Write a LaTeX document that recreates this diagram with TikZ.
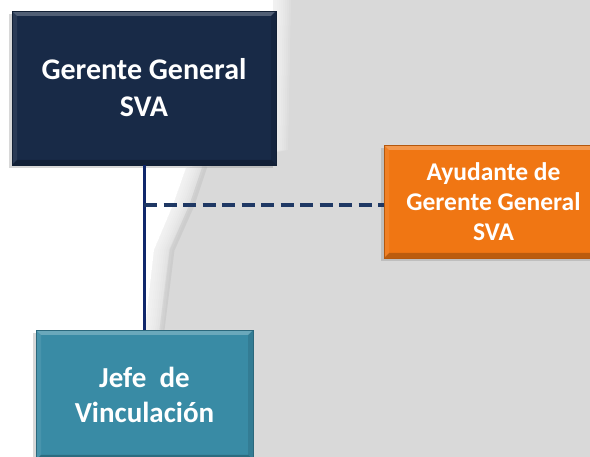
\documentclass[tikz,border=0pt]{standalone}
\usepackage{fontspec}
\setmainfont{Carlito}
\usepackage{tikz}
\usetikzlibrary{shadows}

\definecolor{navy}{HTML}{182A47}
\definecolor{ayorange}{HTML}{F07613}
\definecolor{teal}{HTML}{398BA5}
\definecolor{linkblue}{HTML}{10276B}
\definecolor{dashblue}{HTML}{1F3864}
\definecolor{bggray}{HTML}{D9D9D9}

\begin{document}
\begin{tikzpicture}[x=1pt,y=-1pt,
  box/.style={rectangle, fill=#1, draw=#1!75!black, text=white, align=center, inner sep=0pt,
    font=\bfseries\fontsize{30}{37}\selectfont,
    drop shadow={shadow xshift=-3pt, shadow yshift=-3pt, opacity=.3},
    path picture={
      \coordinate (nw) at (path picture bounding box.north west);
      \coordinate (ne) at (path picture bounding box.north east);
      \coordinate (sw) at (path picture bounding box.south west);
      \coordinate (se) at (path picture bounding box.south east);
      \fill[white,opacity=.25] (nw) -- (ne) -- ([shift={(-5pt,-5pt)}]ne) -- ([shift={(5pt,-5pt)}]nw) -- cycle;
      \fill[black,opacity=.22] (sw) -- (se) -- ([shift={(-5pt,5pt)}]se) -- ([shift={(5pt,5pt)}]sw) -- cycle;
      \fill[black,opacity=.1] (ne) -- (se) -- ([shift={(-5pt,5pt)}]se) -- ([shift={(-5pt,-5pt)}]ne) -- cycle;
      \fill[white,opacity=.08] (nw) -- (sw) -- ([shift={(5pt,5pt)}]sw) -- ([shift={(5pt,-5pt)}]nw) -- cycle;
    }},
  link/.style={draw=linkblue, line width=3pt},
  sidelink/.style={draw=dashblue, line width=4pt, dash pattern=on 13pt off 6.5pt}]

% background
\useasboundingbox (0,0) rectangle (590,457);
\fill[bggray] (0,0) rectangle (590,457);
\fill[white, xshift=-12pt] (0,0) -- (285,0) -- (282,150) -- (198,168) -- (185,205) -- (166,250) -- (157,330) -- (155,457) -- (0,457) -- cycle;
\foreach \s in {-12,-10,...,6}
  \fill[white, opacity=.13, xshift=\s pt] (0,0) -- (285,0) -- (282,150) -- (198,168) -- (185,205) -- (166,250) -- (157,330) -- (155,457) -- (0,457) -- cycle;
\draw[black, opacity=.05, line width=5pt] (205,166) -- (192,205) -- (172,250) -- (162,330);
\clip (0,0) rectangle (590,457);

% boxes
\node[box=navy, minimum width=264pt, minimum height=154pt] (gg) at (144,88) {Gerente General\\SVA};
\node[box=ayorange, minimum width=219pt, minimum height=113pt,
  font=\bfseries\fontsize{25.5}{30}\selectfont] (ay) at (493.5,201.5) {Ayudante de\\Gerente General\\SVA};
\node[box=teal, minimum width=217pt, minimum height=130pt,
  font=\bfseries\fontsize{29}{35}\selectfont] (jv) at (144.5,395) {Jefe\ \ de\\Vinculación};

% lines
\coordinate (tap) at (144,205);
\draw[link] (gg.south) -- (gg.south |- jv.north);
\draw[sidelink] (tap) -- (tap -| ay.west);

\end{tikzpicture}
\end{document}
